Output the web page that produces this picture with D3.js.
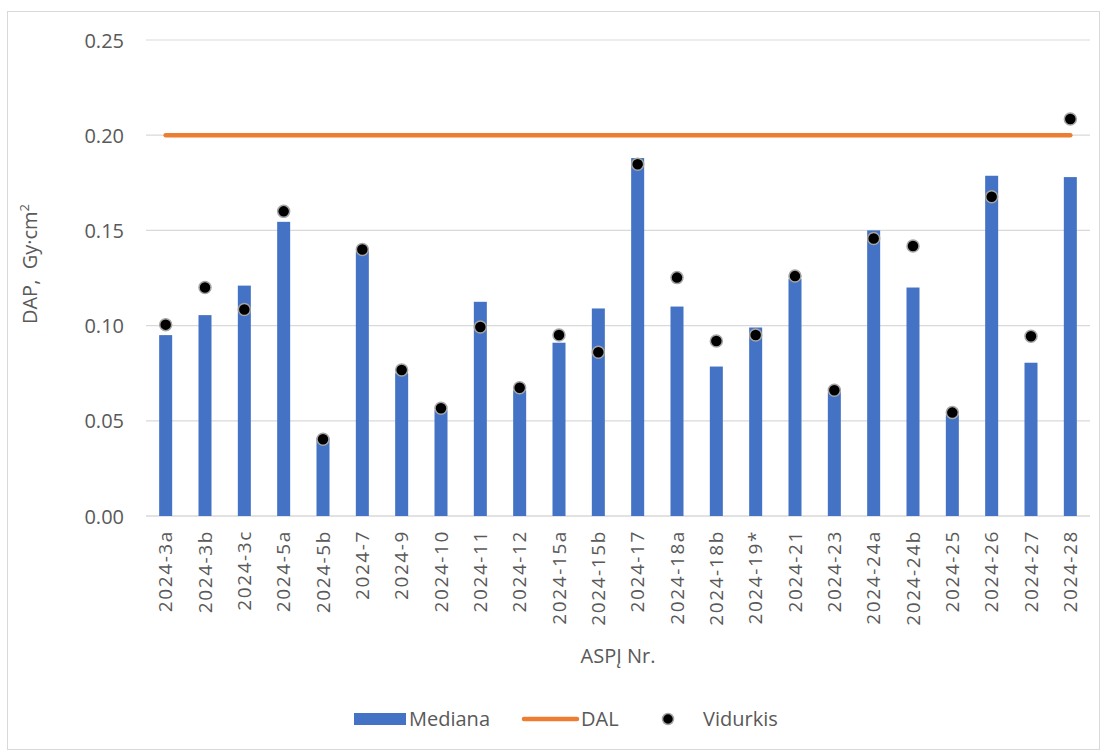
<!DOCTYPE html>
<html>
<head>
<meta charset="utf-8">
<script src="https://cdn.jsdelivr.net/npm/d3@7"></script>
<style>
  body { margin: 0; background: #fff; }
  svg text { font-family: "Open Sans", "Noto Sans", sans-serif; fill: #595959; }
</style>
</head>
<body>
<svg id="chart" width="1106" height="753"></svg>
<script>
var categories = ['2024-3a', '2024-3b', '2024-3c', '2024-5a', '2024-5b', '2024-7', '2024-9', '2024-10',
  '2024-11', '2024-12', '2024-15a', '2024-15b', '2024-17', '2024-18a', '2024-18b', '2024-19*',
  '2024-21', '2024-23', '2024-24a', '2024-24b', '2024-25', '2024-26', '2024-27', '2024-28'];
var mediana = [0.095, 0.1055, 0.121, 0.1545, 0.041, 0.139, 0.075, 0.0555,
  0.1125, 0.066, 0.091, 0.109, 0.188, 0.110, 0.0785, 0.099,
  0.1245, 0.065, 0.150, 0.120, 0.053, 0.1787, 0.0805, 0.178];
var vidurkis = [0.1005, 0.120, 0.1085, 0.160, 0.0403, 0.140, 0.0767, 0.0566,
  0.0993, 0.0674, 0.0951, 0.086, 0.1847, 0.1252, 0.0919, 0.0951,
  0.126, 0.066, 0.1457, 0.1418, 0.0543, 0.1677, 0.0944, 0.2085];
var dal = 0.20;
var yTicks = [0, 0.05, 0.10, 0.15, 0.20, 0.25];

var svg = d3.select('#chart');

// outer chart border
svg.append('rect')
  .attr('x', 7.5).attr('y', 11.5)
  .attr('width', 1092).attr('height', 738)
  .attr('fill', '#fff').attr('stroke', '#d9d9d9');

var plotL = 146, plotR = 1090, plotT = 40, plotB = 516;

var x = d3.scaleBand().domain(categories).range([plotL, plotR]).paddingInner(0).paddingOuter(0);
var y = d3.scaleLinear().domain([0, 0.25]).range([plotB, plotT]);
var barW = 13;

// gridlines
svg.append('g').selectAll('line')
  .data(yTicks)
  .join('line')
    .attr('x1', plotL).attr('x2', plotR)
    .attr('y1', function(d) { return y(d); })
    .attr('y2', function(d) { return y(d); })
    .attr('stroke', '#d9d9d9')
    .attr('stroke-width', function(d) { return d === 0 ? 1.5 : 1.2; });

// y axis labels
var yAxis = d3.axisLeft(y).tickValues(yTicks).tickFormat(d3.format('.2f')).tickSize(0).tickPadding(0);
var yg = svg.append('g').attr('transform', 'translate(124,0)').call(yAxis);
yg.select('.domain').remove();
yg.selectAll('text')
  .attr('font-size', 20)
  .attr('font-family', '"Open Sans", sans-serif')
  .attr('fill', '#595959')
  .attr('dy', '0.35em');

// bars
svg.append('g').selectAll('rect')
  .data(mediana)
  .join('rect')
    .attr('x', function(d, i) { return x(categories[i]) + x.bandwidth() / 2 - barW / 2; })
    .attr('y', function(d) { return y(d); })
    .attr('width', barW)
    .attr('height', function(d) { return y(0) - y(d); })
    .attr('fill', '#4472c4');

// DAL line
var line = d3.line()
  .x(function(d, i) { return x(categories[i]) + x.bandwidth() / 2; })
  .y(function() { return y(dal); });
svg.append('path')
  .datum(categories)
  .attr('d', line)
  .attr('fill', 'none')
  .attr('stroke', '#ed7d31')
  .attr('stroke-width', 4.5)
  .attr('stroke-linecap', 'round');

// mean dots
svg.append('g').selectAll('circle')
  .data(vidurkis)
  .join('circle')
    .attr('cx', function(d, i) { return x(categories[i]) + x.bandwidth() / 2; })
    .attr('cy', function(d) { return y(d); })
    .attr('r', 6)
    .attr('fill', '#000')
    .attr('stroke', '#a5a5a5')
    .attr('stroke-width', 1.5);

// x labels
var xAxis = d3.axisBottom(x).tickSize(0).tickPadding(0);
var xg = svg.append('g').attr('transform', 'translate(0,' + plotB + ')').call(xAxis);
xg.select('.domain').remove();
xg.selectAll('text')
  .attr('font-size', 19)
  .attr('font-family', '"Open Sans", sans-serif')
  .attr('letter-spacing', 1.6)
  .attr('fill', '#595959')
  .attr('text-anchor', 'end')
  .attr('transform', 'rotate(-90)')
  .attr('x', -14)
  .attr('y', 0)
  .attr('dy', '0.35em');

// axis titles
svg.append('text')
  .attr('x', 618).attr('y', 663)
  .attr('text-anchor', 'middle')
  .attr('font-size', 20)
  .text('ASPĮ Nr.');

var yt = svg.append('text')
  .attr('transform', 'translate(37,264) rotate(-90)')
  .attr('text-anchor', 'middle')
  .attr('font-size', 20)
  .style('white-space', 'pre');
yt.append('tspan').text('DAP,  Gy·cm');
yt.append('tspan').attr('font-size', 13).attr('dy', -8).text('2');

// legend
var lg = svg.append('g');
lg.append('rect').attr('x', 354).attr('y', 713).attr('width', 52).attr('height', 12).attr('fill', '#4472c4');
lg.append('text').attr('x', 409).attr('y', 719).attr('dy', '0.35em').attr('font-size', 20).text('Mediana');
lg.append('line').attr('x1', 524).attr('x2', 577).attr('y1', 719).attr('y2', 719)
  .attr('stroke', '#ed7d31').attr('stroke-width', 4.5).attr('stroke-linecap', 'round');
lg.append('text').attr('x', 581).attr('y', 719).attr('dy', '0.35em').attr('font-size', 20).text('DAL');
lg.append('circle').attr('cx', 668).attr('cy', 719).attr('r', 5.5)
  .attr('fill', '#000').attr('stroke', '#a5a5a5').attr('stroke-width', 1.5);
lg.append('text').attr('x', 703).attr('y', 719).attr('dy', '0.35em').attr('font-size', 20).text('Vidurkis');
</script>
</body>
</html>
